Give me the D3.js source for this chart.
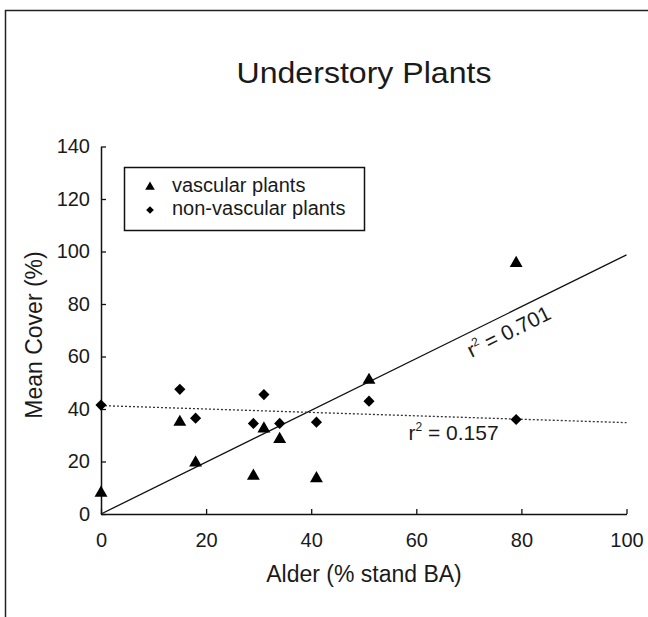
<!DOCTYPE html>
<html>
<head>
<meta charset="utf-8">
<script src="https://cdn.jsdelivr.net/npm/d3@7"></script>
<style>
  body { margin: 0; background: #fff; }
  text { font-family: Arial, "Liberation Sans", sans-serif; fill: #1a1a1a; }
</style>
</head>
<body>
<svg id="chart" width="648" height="617"></svg>
<script>
// values
var alder = [0, 15, 18, 29, 31, 34, 41, 51, 79];
var vascular = [8, 35, 19.5, 14.5, 32.5, 28.5, 13.5, 51, 95.5];
var nonVascular = [41.5, 47.5, 36.5, 34.5, 45.5, 34.5, 35, 43, 36];

var fitX = [0, 100];
var vascularFit = [0, 98.7];
var nonVascularFit = [41.3, 34.8];

var xTicks = [0, 20, 40, 60, 80, 100];
var yTicks = [0, 20, 40, 60, 80, 100, 120, 140];
var seriesNames = ["vascular plants", "non-vascular plants"];
var r2Labels = ["0.701", "0.157"];

var svg = d3.select("#chart");

var x = d3.scaleLinear().domain([0, 100]).range([101, 626.5]);
var y = d3.scaleLinear().domain([0, 140]).range([514, 146.5]);

// outer frame (right and bottom edges fall outside the picture)
svg.append("rect")
    .attr("x", 5.5).attr("y", 10.5)
    .attr("width", 700).attr("height", 700)
    .attr("fill", "none")
    .attr("stroke", "#222")
    .attr("stroke-width", 1.5);

svg.append("text")
    .attr("x", 364).attr("y", 83)
    .attr("text-anchor", "middle")
    .attr("font-size", 30)
    .attr("textLength", 255)
    .attr("lengthAdjust", "spacingAndGlyphs")
    .text("Understory Plants");

var xAxis = svg.append("g")
    .attr("transform", "translate(0," + y(0) + ")")
    .call(d3.axisBottom(x).tickValues(xTicks).tickSizeInner(-5).tickSizeOuter(0).tickPadding(19));

var yAxis = svg.append("g")
    .attr("transform", "translate(" + x(0) + ",0)")
    .call(d3.axisLeft(y).tickValues(yTicks).tickSizeInner(-5).tickSizeOuter(0).tickPadding(11));

[xAxis, yAxis].forEach(function(g) {
    g.select(".domain").attr("stroke", "#111").attr("stroke-width", 1.5);
    g.selectAll(".tick line").attr("stroke", "#111").attr("stroke-width", 1.3);
    g.selectAll(".tick text")
        .attr("font-size", 20)
        .attr("font-family", "Arial, 'Liberation Sans', sans-serif")
        .attr("fill", "#1a1a1a");
});

svg.append("text")
    .attr("x", 364).attr("y", 582)
    .attr("text-anchor", "middle")
    .attr("font-size", 23)
    .text("Alder (% stand BA)");

svg.append("text")
    .attr("transform", "translate(42," + 335 + ") rotate(-90)")
    .attr("text-anchor", "middle")
    .attr("font-size", 23)
    .text("Mean Cover (%)");

// regression lines
var line = d3.line()
    .x(function(d) { return x(d[0]); })
    .y(function(d) { return y(d[1]); });

svg.append("path")
    .datum(d3.zip(fitX, vascularFit))
    .attr("d", line)
    .attr("fill", "none")
    .attr("stroke", "#111")
    .attr("stroke-width", 1.3);

svg.append("path")
    .datum(d3.zip(fitX, nonVascularFit))
    .attr("d", line)
    .attr("fill", "none")
    .attr("stroke", "#333")
    .attr("stroke-width", 1.3)
    .attr("stroke-dasharray", "2,2");

// points
var triangle = d3.symbol().type(d3.symbolTriangle).size(72);
var diamond = d3.symbol().type(d3.symbolSquare).size(62);

svg.append("g")
    .selectAll("path")
    .data(d3.zip(alder, vascular))
    .enter().append("path")
    .attr("d", triangle)
    .attr("transform", function(d) { return "translate(" + x(d[0]) + "," + y(d[1]) + ")"; })
    .attr("fill", "#000");

svg.append("g")
    .selectAll("path")
    .data(d3.zip(alder, nonVascular))
    .enter().append("path")
    .attr("d", diamond)
    .attr("transform", function(d) { return "translate(" + x(d[0]) + "," + y(d[1]) + ") rotate(45)"; })
    .attr("fill", "#000");

// r-squared labels
function r2Text(sel, value) {
    sel.append("tspan").text("r");
    sel.append("tspan").attr("font-size", 12).attr("dy", -9).text("2");
    sel.append("tspan").attr("dy", 9).text(" = " + value);
}

var angle = Math.atan2(y(vascularFit[1]) - y(vascularFit[0]), x(fitX[1]) - x(fitX[0])) * 180 / Math.PI;
var ax = 68.5;
var ay = vascularFit[0] + (vascularFit[1] - vascularFit[0]) * ax / 100;
svg.append("text")
    .attr("transform", "translate(" + x(ax) + "," + y(ay) + ") rotate(" + angle + ")")
    .attr("x", 0).attr("y", 24)
    .attr("font-size", 21)
    .call(r2Text, r2Labels[0]);

svg.append("text")
    .attr("x", x(58.5)).attr("y", y(28.2))
    .attr("font-size", 21)
    .call(r2Text, r2Labels[1]);

// legend
var legend = svg.append("g");
legend.append("rect")
    .attr("x", 124.5).attr("y", 167.5)
    .attr("width", 240).attr("height", 63)
    .attr("fill", "#fff")
    .attr("stroke", "#111")
    .attr("stroke-width", 1.5);

legend.append("path")
    .attr("d", d3.symbol().type(d3.symbolTriangle).size(40))
    .attr("transform", "translate(150,187)");
legend.append("path")
    .attr("d", d3.symbol().type(d3.symbolSquare).size(30))
    .attr("transform", "translate(150,210) rotate(45)");

legend.selectAll("text.item")
    .data(seriesNames)
    .enter().append("text")
    .attr("class", "item")
    .attr("x", 172)
    .attr("y", function(d, i) { return 192 + i * 23; })
    .attr("font-size", 20)
    .text(function(d) { return d; });
</script>
</body>
</html>
